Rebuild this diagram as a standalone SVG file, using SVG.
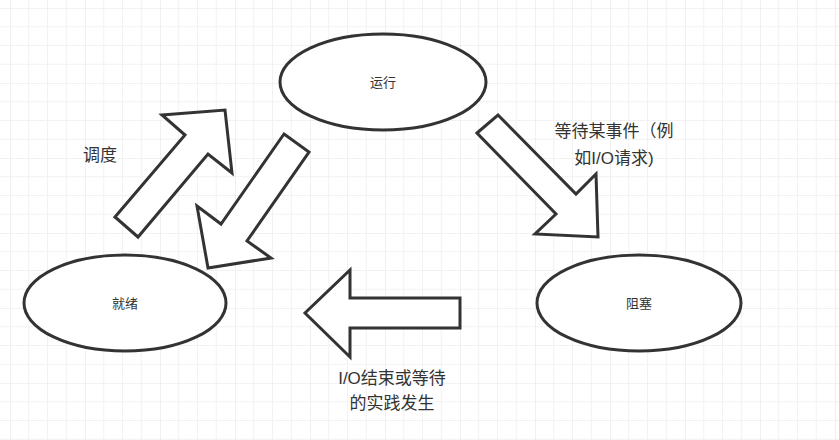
<svg xmlns="http://www.w3.org/2000/svg" width="839" height="440" viewBox="0 0 839 440">
<defs>
<pattern id="g" x="10" y="8" width="75" height="75" patternUnits="userSpaceOnUse">
<path d="M18.75 0V75M37.5 0V75M56.25 0V75M0 18.75H75M0 37.5H75M0 56.25H75" stroke="#f2f2f2" stroke-width="1" fill="none"/>
<path d="M0 0V75M0 0H75" stroke="#e6e6e6" stroke-width="1.2" fill="none"/>
</pattern>
</defs>
<style>
.s{fill:#fff;stroke:#333;stroke-width:3;stroke-linejoin:miter}
.t{font-family:"Liberation Sans","Noto Sans CJK SC",sans-serif;fill:#333;text-anchor:middle}
</style>
<rect width="839" height="440" fill="#fff"/>
<rect width="839" height="440" fill="url(#g)"/>
<g id="connectors">
<polygon class="s" points="115,217 185,135 162,115 225,110 232,173 208,154 138,237"/>
<polygon class="s" points="284,134 309,152 247,241 271,258 208,268 197,206 221,224"/>
<polygon class="s" points="477,133 498,115 576,194 596,174 598,237 535,234 556,214"/>
<polygon class="s" points="460,298 350,298 350,270 305,313 350,357 350,328 460,328"/>
<text class="t" x="100" y="161" font-size="17">调度</text>
<text class="t" x="614" y="137" font-size="17">等待某事件（例</text>
<text class="t" x="614" y="164" font-size="17">如I/O请求)</text>
<text class="t" x="392" y="384" font-size="17">I/O结束或等待</text>
<text class="t" x="392" y="409" font-size="17">的实践发生</text>
</g>
<g id="running"><ellipse class="s" cx="383" cy="82" rx="103" ry="48"/><text class="t" x="383" y="87" font-size="13">运行</text></g>
<g id="ready"><ellipse class="s" cx="125" cy="303" rx="101" ry="48"/><text class="t" x="125" y="308" font-size="13">就绪</text></g>
<g id="blocked"><ellipse class="s" cx="639" cy="303" rx="102" ry="48"/><text class="t" x="639" y="308" font-size="13">阻塞</text></g>
</svg>
